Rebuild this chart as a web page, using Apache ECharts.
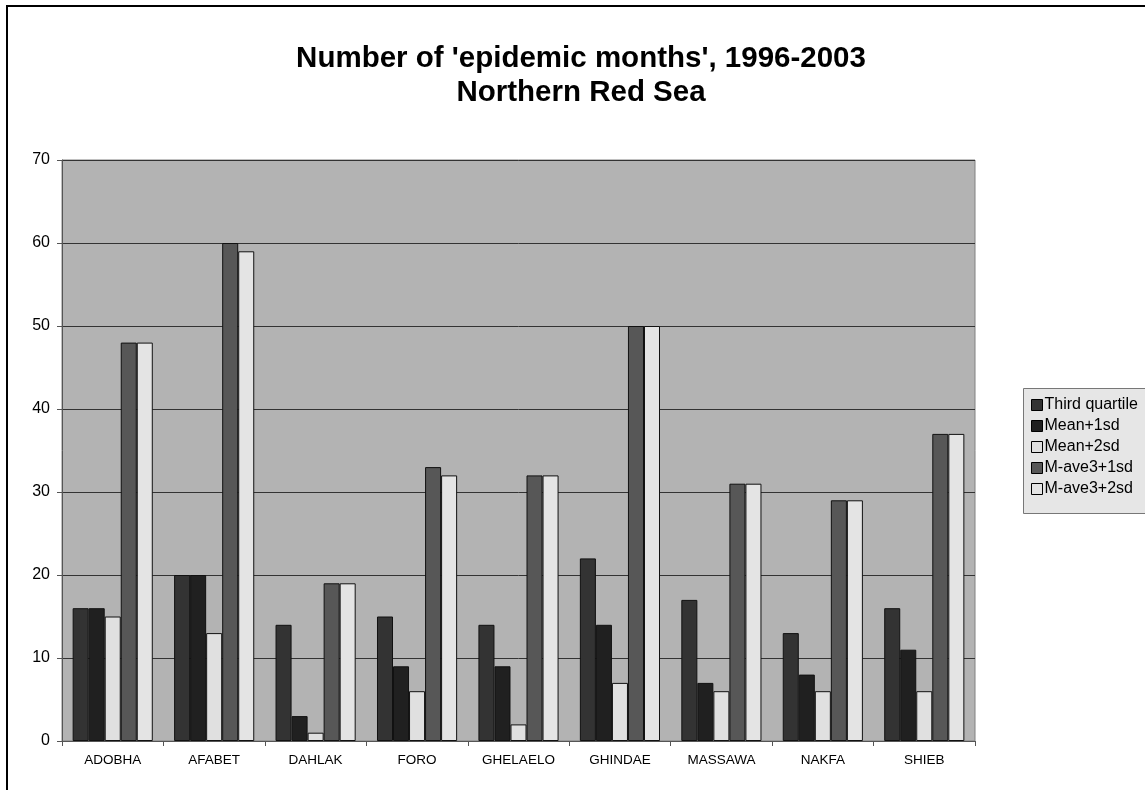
<!DOCTYPE html>
<html><head><meta charset="utf-8">
<script src="https://cdn.jsdelivr.net/npm/echarts@6/dist/echarts.min.js"></script>
<style>html,body{margin:0;padding:0;background:#fff;}#c{width:1145px;height:790px;}</style>
</head><body><div id="c"></div>
<script>
const categories = ['ADOBHA','AFABET','DAHLAK','FORO','GHELAELO','GHINDAE','MASSAWA','NAKFA','SHIEB'];
const thirdQuartile = [16,20,14,15,14,22,17,13,16];
const mean1sd = [16,20,3,9,9,14,7,8,11];
const mean2sd = [15,13,1,6,2,7,6,6,6];
const mave1sd = [48,60,19,33,32,50,31,29,37];
const mave2sd = [48,59,19,32,32,50,31,29,37];
const seriesNames = ['Third quartile','Mean+1sd','Mean+2sd','M-ave3+1sd','M-ave3+2sd'];
const seriesColors = ['#333333','#202020','#e0e0e0','#575757','#e4e4e4'];
const seriesData = [thirdQuartile, mean1sd, mean2sd, mave1sd, mave2sd];

const chart = echarts.init(document.getElementById('c'), null, {renderer:'canvas'});
const font = 'Liberation Sans, Arial, sans-serif';
chart.setOption({
  animation:false,
  backgroundColor:'#fff',
  title:{
    text:"Number of 'epidemic months', 1996-2003\nNorthern Red Sea",
    left:576, textAlign:'center', top:37,
    textStyle:{fontFamily:font, fontWeight:'bold', fontSize:29.5, color:'#000', lineHeight:34}
  },
  graphic:[
    {type:'rect', shape:{x:7,y:6,width:1300,height:1000}, style:{fill:'none', stroke:'#000', lineWidth:2}, z:-1},
    {type:'rect', shape:{x:1023.5,y:388.5,width:200,height:125}, style:{fill:'#e6e6e6', stroke:'#777', lineWidth:1}, z:-1}
  ],
  legend:{
    orient:'vertical', left:1026, top:392, itemGap:5,
    itemWidth:11, itemHeight:11, icon:'rect',
    textStyle:{fontFamily:font, fontSize:16, color:'#000', padding:[0,0,0,-3]},
    data: seriesNames.map((n,i)=>({name:n, itemStyle:{borderColor:'#000', borderWidth:1}}))
  },
  grid:{left:62, top:160, right:1145-975, bottom:790-741, backgroundColor:'#b3b3b3', show:true, borderColor:'#808080', borderWidth:1},
  xAxis:{
    type:'category', data:categories,
    axisLine:{lineStyle:{color:'#555', width:1}},
    axisTick:{show:true, length:5, lineStyle:{color:'#555'}},
    axisLabel:{fontFamily:font, fontSize:13.5, color:'#000', margin:12}
  },
  yAxis:{
    type:'value', min:0, max:70, interval:10,
    axisLine:{show:true, lineStyle:{color:'#555'}},
    axisTick:{show:true, length:5, lineStyle:{color:'#555'}},
    axisLabel:{fontFamily:font, fontSize:16, color:'#000', margin:12},
    splitLine:{lineStyle:{color:'#333', width:1}}
  },
  series: seriesNames.map((n,i)=>({
    name:n, type:'bar', data:seriesData[i],
    barGap:'0%', barCategoryGap:'21%',
    itemStyle:{color:seriesColors[i], borderColor:'#111', borderWidth:1}
  }))
});
</script></body></html>
